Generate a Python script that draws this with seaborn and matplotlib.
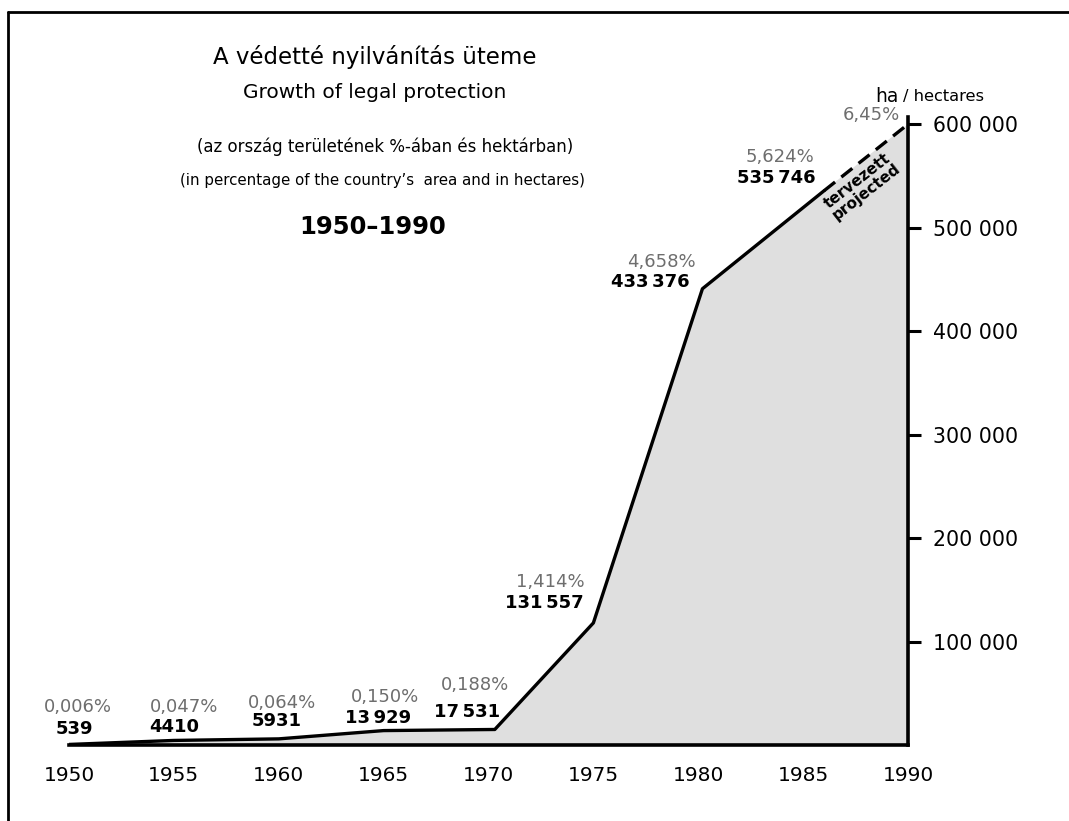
import matplotlib
matplotlib.use("Agg")
import matplotlib.pyplot as plt
from matplotlib.lines import Line2D
import seaborn as sns
import pandas as pd

sns.set_style("white")
plt.rcParams["font.family"] = ["DejaVu Sans"]
plt.rcParams["text.color"] = "black"
plt.rcParams["xtick.color"] = "black"
plt.rcParams["ytick.color"] = "black"

# Label values printed at each milestone
label_years = [1950, 1955, 1960, 1965, 1970, 1975, 1980, 1985]
hectares = ["539", "4410", "5931", "13\u2009929", "17\u2009531", "131\u2009557",
            "433\u2009376", "535\u2009746"]
percent = ["0,006%", "0,047%", "0,064%", "0,150%", "0,188%", "1,414%", "4,658%",
           "5,624%"]

# Line as drawn in the picture (solid part, then projected part)
line_years = [1950, 1955, 1960, 1965, 1970.3, 1975, 1980.2, 1986]
line_ha = [539, 4410, 5931, 13929, 15000, 118000, 441000, 535746]
proj_years = [1986, 1990]
proj_ha = [535746, 600000]

x_ticks = [1950, 1955, 1960, 1965, 1970, 1975, 1980, 1985, 1990]
y_ticks = [100000, 200000, 300000, 400000, 500000, 600000]
y_labels = ["100 000", "200 000", "300 000", "400 000", "500 000", "600 000"]

# Label placement in data units: x of percent, y of percent, x of hectares, y of hectares
label_pos = [
    (1950.43, 36700, 1950.24, 15500),
    (1955.5, 36700, 1955.0, 17400),
    (1960.15, 40600, 1959.9, 23200),
    (1965.05, 46400, 1964.75, 26100),
    (1969.35, 58000, 1969.0, 31900),
    (1972.93, 157500, 1972.65, 137200),
    (1978.25, 466700, 1977.7, 447300),
    (1983.9, 568000, 1983.7, 547800),
]

df = pd.DataFrame({"year": line_years, "ha": line_ha})
proj = pd.DataFrame({"year": proj_years, "ha": proj_ha})

fig = plt.figure(figsize=(10.69, 8.21), dpi=100)
ax = fig.add_axes([69 / 1069, 1 - 745 / 821, (908 - 69) / 1069, 628 / 821])

# Shaded area
all_years = line_years + proj_years[1:]
all_ha = line_ha + proj_ha[1:]
ax.fill_between(all_years, 0, all_ha, color="#dfdfdf", zorder=1)

sns.lineplot(data=df, x="year", y="ha", ax=ax, color="black", lw=2.4,
             sort=False, zorder=3)
sns.lineplot(data=proj, x="year", y="ha", ax=ax, color="black", lw=2.4,
             linestyle=(0, (4.2, 2.4)), zorder=3)

ax.set_xlim(1950, 1990)
ax.set_ylim(0, 607000)
ax.set_xlabel("")
ax.set_ylabel("")

# Spines: bottom and right only
for side in ["top", "left"]:
    ax.spines[side].set_visible(False)
for side in ["bottom", "right"]:
    ax.spines[side].set_linewidth(2.6)
    ax.spines[side].set_color("black")
    ax.spines[side].set_zorder(4)

ax.set_xticks(x_ticks, labels=[str(x) for x in x_ticks])
ax.yaxis.tick_right()
ax.set_yticks(y_ticks, labels=y_labels)
ax.tick_params(axis="x", direction="out", length=9, width=2.2, labelsize=14.5, pad=6)
ax.tick_params(axis="y", direction="out", length=9, width=2.2, labelsize=14.8, pad=9)
ax.patch.set_alpha(0)

# Milestone labels
for (px, py, hx, hy), pct, ha in zip(label_pos, percent, hectares):
    ax.text(px, py, pct, color="#6e6e6e", fontsize=13, ha="center", va="center")
    ax.text(hx, hy, ha, color="black", fontsize=13, ha="center", va="center",
            fontweight="bold")

ax.text(1988.25, 608700, "6,45%", color="#6e6e6e", fontsize=13, ha="center",
        va="center")
ax.text(1987.8, 540000, "tervezett\nprojected", rotation=38, fontsize=11,
        fontweight="bold", ha="center", va="center", linespacing=0.95)

# Titles
fig.text(375 / 1069, 1 - 57 / 821, "A védetté nyilvánítás üteme", fontsize=16.5,
         ha="center", va="center")
fig.text(375 / 1069, 1 - 92 / 821, "Growth of legal protection", fontsize=14.5,
         ha="center", va="center")
fig.text(385 / 1069, 1 - 147 / 821, "(az ország területének %-ában és hektárban)",
         fontsize=12, ha="center", va="center")
fig.text(382 / 1069, 1 - 180 / 821,
         "(in percentage of the country’s  area and in hectares)",
         fontsize=10.8, ha="center", va="center")
fig.text(373 / 1069, 1 - 227 / 821, "1950–1990", fontsize=17.5, fontweight="bold",
         ha="center", va="center")
fig.text(875 / 1069, 1 - 96 / 821, "ha", fontsize=13.5, ha="left", va="center")
fig.text(903 / 1069, 1 - 96 / 821, "/ hectares", fontsize=11.7, ha="left",
         va="center")

# Frame of the scanned page
fig.add_artist(Line2D([8 / 1069, 8 / 1069], [0, 1 - 12 / 821],
                      transform=fig.transFigure, color="black", lw=2))
fig.add_artist(Line2D([8 / 1069, 1], [1 - 12 / 821, 1 - 12 / 821],
                      transform=fig.transFigure, color="black", lw=2))

fig.savefig("out.png", dpi=100)
